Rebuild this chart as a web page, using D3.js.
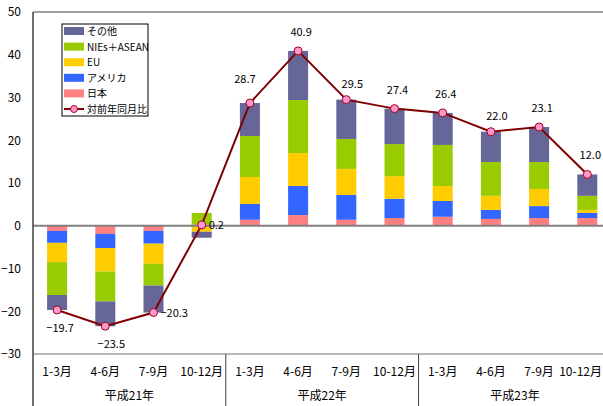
<!DOCTYPE html>
<html>
<head>
<meta charset="utf-8">
<script src="https://cdn.jsdelivr.net/npm/d3@7"></script>
<style>
  html, body { margin: 0; padding: 0; background: #fff; }
  svg { display: block; }
  text { font-family: "Liberation Sans Narrow", "Arial Narrow", "Noto Sans CJK JP", sans-serif; fill: #000; }
  .jp { font-family: "Noto Sans CJK JP", sans-serif; }
</style>
</head>
<body>
<svg id="chart" width="603" height="406"></svg>
<script>
// Quarterly categories and the fiscal year each belongs to
const quarters = ["1-3月", "4-6月", "7-9月", "10-12月",
                  "1-3月", "4-6月", "7-9月", "10-12月",
                  "1-3月", "4-6月", "7-9月", "10-12月"];
const years = ["平成21年", "平成22年", "平成23年"];

// Contribution by destination (percentage points)
const japan  = [-1.2, -1.9, -1.2,  0.3, 1.4,  2.5, 1.4, 1.8, 2.1, 1.6, 1.8, 1.8];
const usa    = [-2.8, -3.3, -3.0, -0.2, 3.7,  6.8, 5.8, 4.5, 3.7, 2.1, 2.8, 1.2];
const eu     = [-4.5, -5.5, -4.7, -1.2, 6.3,  7.7, 6.1, 5.3, 3.5, 3.3, 4.0, 0.7];
const nies   = [-7.7, -7.0, -5.1,  2.7, 9.6, 12.4, 7.0, 7.5, 9.6, 7.9, 6.3, 3.3];
const others = [-3.5, -5.8, -6.3, -1.4, 7.7, 11.5, 9.2, 8.3, 7.5, 7.1, 8.2, 5.0];

// Year-on-year change (%)
const yoy = [-19.7, -23.5, -20.3, 0.2, 28.7, 40.9, 29.5, 27.4, 26.4, 22.0, 23.1, 12.0];

// Y axis ticks
const yTicks = [-30, -20, -10, 0, 10, 20, 30, 40, 50];

const seriesNames = ["日本", "アメリカ", "EU", "NIEs＋ASEAN", "その他"];
const seriesValues = [japan, usa, eu, nies, others];
const seriesColors = ["#ff8080", "#3366ff", "#ffcc00", "#99cc00", "#666699"];
const lineName = "対前年同月比";

// Where each value label sits relative to its marker
const labelPlace = ["below", "below", "right", "right", "aboveLeft", "above",
                    "aboveRight", "above", "above", "aboveRight", "above", "above"];

const W = 603;
const svg = d3.select("#chart");
const plot = { left: 33, top: 12, bottom: 354 };
const step = 48.2;

const x = d3.scaleBand()
  .domain(d3.range(quarters.length))
  .range([plot.left, plot.left + step * quarters.length])
  .paddingInner(0.585)
  .paddingOuter(0.2925);

const y = d3.scaleLinear().domain([-30, 50]).range([plot.bottom, plot.top]);

// Table for stacking
const rows = quarters.map((q, i) => {
  const r = { i };
  seriesNames.forEach((n, k) => { r[n] = seriesValues[k][i]; });
  return r;
});
const stacked = d3.stack().keys(seriesNames).offset(d3.stackOffsetDiverging)(rows);

// Frame: top border and bottom gridline
svg.append("line").attr("x1", plot.left).attr("x2", W)
  .attr("y1", y(50)).attr("y2", y(50)).attr("stroke", "#808080").attr("stroke-width", 1.5);
svg.append("line").attr("x1", plot.left).attr("x2", W)
  .attr("y1", y(-30)).attr("y2", y(-30)).attr("stroke", "#a0a0a0").attr("stroke-width", 1.5);

// Y axis labels
const yAxis = d3.axisLeft(y).tickValues(yTicks).tickSize(0).tickPadding(0)
  .tickFormat(d => d < 0 ? "\u2212" + Math.abs(d) : d);
const gy = svg.append("g").attr("transform", `translate(${plot.left - 12},0)`).call(yAxis);
gy.select(".domain").remove();
gy.selectAll("text").attr("font-size", 12)
  .attr("font-family", "'Liberation Sans Narrow', 'Arial Narrow', sans-serif").attr("fill", "#000");

// Stacked bars
svg.append("g").selectAll("g").data(stacked).join("g")
  .attr("fill", (d, k) => seriesColors[k])
  .selectAll("rect").data(d => d).join("rect")
  .attr("x", d => x(d.data.i))
  .attr("width", x.bandwidth())
  .attr("y", d => y(Math.max(d[0], d[1])))
  .attr("height", d => Math.abs(y(d[0]) - y(d[1])));

// Zero line
svg.append("line").attr("x1", plot.left).attr("x2", W)
  .attr("y1", y(0)).attr("y2", y(0)).attr("stroke", "#808080").attr("stroke-width", 2);

// Left axis line extending through the category area
svg.append("line").attr("x1", plot.left).attr("x2", plot.left)
  .attr("y1", plot.top).attr("y2", 406).attr("stroke", "#404040").attr("stroke-width", 1.5);

// Year separators below the plot
[4, 8].forEach(i => {
  const sx = plot.left + step * i;
  svg.append("line").attr("x1", sx).attr("x2", sx)
    .attr("y1", y(-30)).attr("y2", 406).attr("stroke", "#404040").attr("stroke-width", 1);
});

// Quarter labels (the last one is nudged to stay inside the canvas)
const cx = i => x(i) + x.bandwidth() / 2;
svg.append("g").selectAll("text").data(quarters).join("text")
  .attr("class", "jp")
  .attr("x", (d, i) => cx(i)).attr("y", 376)
  .attr("text-anchor", "middle").attr("font-size", 12)
  .text(d => d)
  .each(function () {
    const b = this.getBBox();
    if (b.x + b.width > W - 1) {
      d3.select(this).attr("text-anchor", "end").attr("x", W - 1);
    }
  });

// Year labels
svg.append("g").selectAll("text").data(years).join("text")
  .attr("class", "jp")
  .attr("x", (d, j) => plot.left + step * (4 * j + 2)).attr("y", 400)
  .attr("text-anchor", "middle").attr("font-size", 12)
  .text(d => d);

// Year-on-year line
const line = d3.line().x((d, i) => cx(i)).y(d => y(d));
svg.append("path").datum(yoy).attr("d", line)
  .attr("fill", "none").attr("stroke", "#800000").attr("stroke-width", 2);
svg.append("g").selectAll("circle").data(yoy).join("circle")
  .attr("cx", (d, i) => cx(i)).attr("cy", d => y(d)).attr("r", 4)
  .attr("fill", "#ff99cc").attr("stroke", "#a00020").attr("stroke-width", 1);

// Value labels
const fmt = v => (v < 0 ? "\u2212" + Math.abs(v).toFixed(1) : v.toFixed(1));
svg.append("g").selectAll("text").data(yoy).join("text")
  .attr("font-size", 11)
  .attr("x", (d, i) => {
    const p = labelPlace[i];
    if (p === "right") return cx(i) + 7;
    if (p === "aboveLeft") return cx(i) - 5;
    if (p === "aboveRight") return cx(i) + 6;
    if (p === "below" && i === 1) return cx(i) + 6;
    return cx(i) + 3;
  })
  .attr("y", (d, i) => {
    const p = labelPlace[i];
    if (p === "right") return y(d) + 4;
    if (p === "below") return y(d) + 22;
    if (p === "aboveLeft") return y(d) - 20;
    if (p === "aboveRight") return y(d) - 12;
    return y(d) - 15;
  })
  .attr("text-anchor", (d, i) => labelPlace[i] === "right" ? "start" : "middle")
  .text(fmt);

// Legend
const lg = svg.append("g").attr("transform", "translate(62,24)");
lg.append("rect").attr("x", 0).attr("y", 0).attr("width", 86).attr("height", 92)
  .attr("fill", "#fff").attr("stroke", "#000").attr("stroke-width", 1);
const legendItems = seriesNames.map((n, k) => ({ name: n, color: seriesColors[k] })).reverse();
legendItems.forEach((it, j) => {
  const ry = 7 + j * 15.6;
  lg.append("rect").attr("x", 2).attr("y", ry - 4).attr("width", 20).attr("height", 8).attr("fill", it.color);
  lg.append("text").attr("class", "jp").attr("x", 25).attr("y", ry + 4)
    .attr("font-size", 10).text(it.name);
});
{
  const ry = 7 + 5 * 15.6;
  lg.append("line").attr("x1", 2).attr("x2", 22).attr("y1", ry).attr("y2", ry)
    .attr("stroke", "#800000").attr("stroke-width", 2);
  lg.append("circle").attr("cx", 12).attr("cy", ry).attr("r", 3.5)
    .attr("fill", "#ff99cc").attr("stroke", "#a00020");
  lg.append("text").attr("class", "jp").attr("x", 25).attr("y", ry + 4)
    .attr("font-size", 10).text(lineName);
}
</script>
</body>
</html>
